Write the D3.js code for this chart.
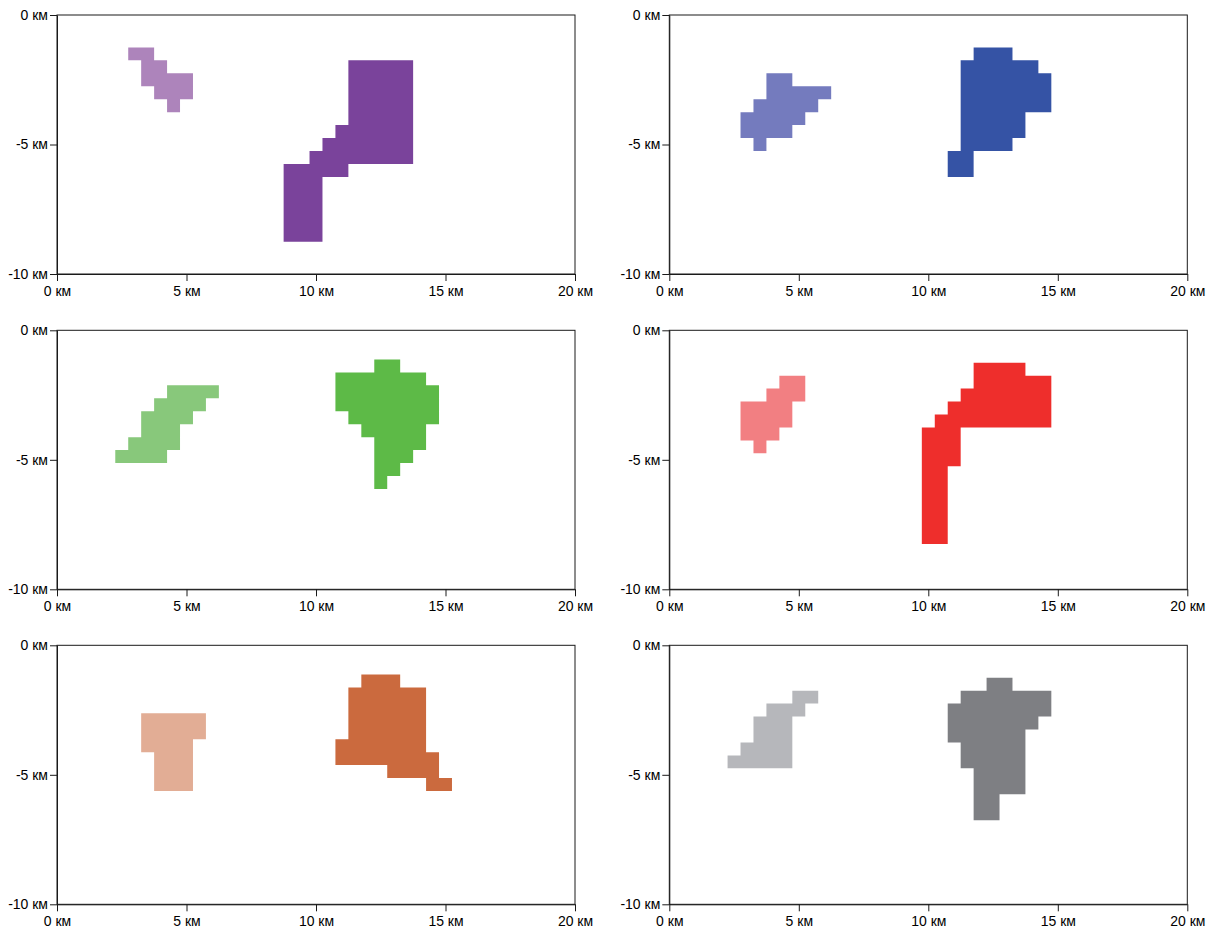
<!DOCTYPE html>
<html>
<head>
<meta charset="utf-8">
<script src="https://cdn.jsdelivr.net/npm/d3@7"></script>
<style>
  body { margin: 0; background: #fff; }
  svg { display: block; }
  .axis text { font-family: "Liberation Sans", Arial, sans-serif; font-size: 14px; fill: #000; }
  .axis path, .axis line { stroke: #1a1a1a; }
</style>
</head>
<body>
<svg id="chart" width="1212" height="930"></svg>
<script>
// Anomaly cells on a 0.5 km grid. Each run is [depth centre (km), first cell x centre, last cell x centre].
const cellSize = 0.5;

const xTicks = [0, 5, 10, 15, 20];
const yTicks = [0, -5, -10];

const panel1Light = [[-1.5, 3, 3.5], [-2, 3.5, 4], [-2.5, 3.5, 5], [-3, 4, 5], [-3.5, 4.5, 4.5]];
const panel1Dark = [[-2, 11.5, 13.5], [-2.5, 11.5, 13.5], [-3, 11.5, 13.5], [-3.5, 11.5, 13.5], [-4, 11.5, 13.5],
  [-4.5, 11, 13.5], [-5, 10.5, 13.5], [-5.5, 10, 13.5], [-6, 9, 11],
  [-6.5, 9, 10], [-7, 9, 10], [-7.5, 9, 10], [-8, 9, 10], [-8.5, 9, 10]];

const panel2Light = [[-2.5, 4, 4.5], [-3, 4, 6], [-3.5, 3.5, 5.5], [-4, 3, 5], [-4.5, 3, 4.5], [-5, 3.5, 3.5]];
const panel2Dark = [[-1.5, 12, 13], [-2, 11.5, 14], [-2.5, 11.5, 14.5], [-3, 11.5, 14.5], [-3.5, 11.5, 14.5],
  [-4, 11.5, 13.5], [-4.5, 11.5, 13.5], [-5, 11.5, 13], [-5.5, 11, 11.5], [-6, 11, 11.5]];

const panel3Light = [[-2.375, 4.5, 6], [-2.875, 4, 5.5], [-3.375, 3.5, 5], [-3.875, 3.5, 4.5], [-4.375, 3, 4.5], [-4.875, 2.5, 4]];
const panel3Dark = [[-1.375, 12.5, 13], [-1.875, 11, 14], [-2.375, 11, 14.5], [-2.875, 11, 14.5], [-3.375, 11.5, 14.5],
  [-3.875, 12, 14], [-4.375, 12.5, 14], [-4.875, 12.5, 13.5], [-5.375, 12.5, 13], [-5.875, 12.5, 12.5]];

const panel4Light = [[-2, 4.5, 5], [-2.5, 4, 5], [-3, 3, 4.5], [-3.5, 3, 4.5], [-4, 3, 4], [-4.5, 3.5, 3.5]];
const panel4Dark = [[-1.5, 12, 13.5], [-2, 12, 14.5], [-2.5, 11.5, 14.5], [-3, 11, 14.5], [-3.5, 10.5, 14.5],
  [-4, 10, 11], [-4.5, 10, 11], [-5, 10, 11], [-5.5, 10, 10.5], [-6, 10, 10.5], [-6.5, 10, 10.5],
  [-7, 10, 10.5], [-7.5, 10, 10.5], [-8, 10, 10.5]];

const panel5Light = [[-2.875, 3.5, 5.5], [-3.375, 3.5, 5.5], [-3.875, 3.5, 5], [-4.375, 4, 5], [-4.875, 4, 5], [-5.375, 4, 5]];
const panel5Dark = [[-1.375, 12, 13], [-1.875, 11.5, 14], [-2.375, 11.5, 14], [-2.875, 11.5, 14], [-3.375, 11.5, 14],
  [-3.875, 11, 14], [-4.375, 11, 14.5], [-4.875, 13, 14.5], [-5.375, 14.5, 15]];

const panel6Light = [[-2, 5, 5.5], [-2.5, 4, 5], [-3, 3.5, 4.5], [-3.5, 3.5, 4.5], [-4, 3, 4.5], [-4.5, 2.5, 4.5]];
const panel6Dark = [[-1.5, 12.5, 13], [-2, 11.5, 14.5], [-2.5, 11, 14.5], [-3, 11, 14], [-3.5, 11, 13.5],
  [-4, 11.5, 13.5], [-4.5, 11.5, 13.5], [-5, 12, 13.5], [-5.5, 12, 13.5], [-6, 12, 12.5], [-6.5, 12, 12.5]];

const panels = [
  { light: panel1Light, dark: panel1Dark, lightColor: "#ad84bb", darkColor: "#7a439b" },
  { light: panel2Light, dark: panel2Dark, lightColor: "#747bbe", darkColor: "#3553a5" },
  { light: panel3Light, dark: panel3Dark, lightColor: "#88c87b", darkColor: "#5dba47" },
  { light: panel4Light, dark: panel4Dark, lightColor: "#f27f82", darkColor: "#ee2e2c" },
  { light: panel5Light, dark: panel5Dark, lightColor: "#e2ad95", darkColor: "#cb6a3e" },
  { light: panel6Light, dark: panel6Dark, lightColor: "#b6b7bb", darkColor: "#7e7f83" }
];

const svg = d3.select("#chart");
const plotW = 518, plotH = 259;
const colX = [57, 669.3];
const rowY = [15, 330.3, 645.3];
const fmt = d => `${d} км`;

panels.forEach((p, i) => {
  const left = colX[i % 2], top = rowY[Math.floor(i / 2)];
  const x = d3.scaleLinear().domain([0, 20]).range([left, left + plotW]);
  const y = d3.scaleLinear().domain([-10, 0]).range([top + plotH, top]);
  const g = svg.append("g");

  // each shape is one path so that neighbouring runs join without seams
  const shapePath = runs => {
    const path = d3.path();
    runs.forEach(([yc, x0, x1]) => {
      const px0 = x(x0 - cellSize / 2), px1 = x(x1 + cellSize / 2);
      const py0 = y(yc + cellSize / 2), py1 = y(yc - cellSize / 2);
      path.rect(px0, py0, px1 - px0, py1 - py0);
    });
    return path.toString();
  };
  g.append("path").attr("d", shapePath(p.light)).attr("fill", p.lightColor);
  g.append("path").attr("d", shapePath(p.dark)).attr("fill", p.darkColor);

  // frame
  g.append("rect")
    .attr("x", x(0)).attr("y", y(0))
    .attr("width", x(20) - x(0)).attr("height", y(-10) - y(0))
    .attr("fill", "none").attr("stroke", "#1a1a1a").attr("stroke-width", 1);

  g.append("g").attr("class", "axis")
    .attr("transform", `translate(0,${y(-10)})`)
    .call(d3.axisBottom(x).tickValues(xTicks).tickFormat(fmt).tickSize(7).tickSizeOuter(0).tickPadding(5));

  g.append("g").attr("class", "axis")
    .attr("transform", `translate(${x(0)},0)`)
    .call(d3.axisLeft(y).tickValues(yTicks).tickFormat(fmt).tickSize(7).tickSizeOuter(0).tickPadding(2));
});
</script>
</body>
</html>
